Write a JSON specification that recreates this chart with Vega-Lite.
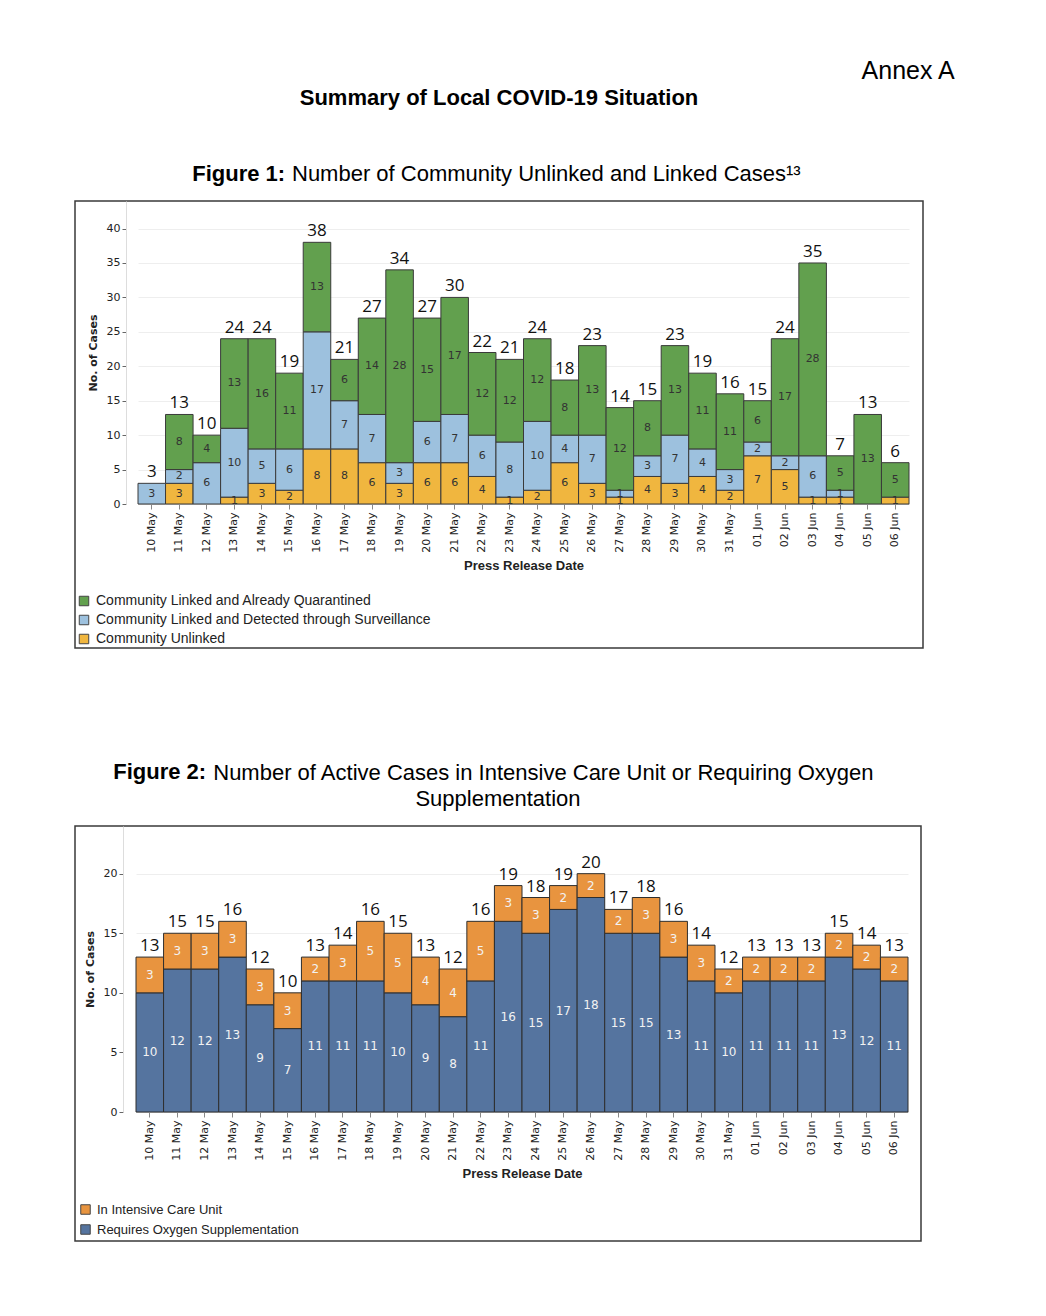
{
  "$schema": "https://vega.github.io/schema/vega-lite/v6.json",
  "background": "white",
  "padding": {"left": 74, "top": 59, "right": 10, "bottom": 10},
  "config": {
    "title": {"font": "Liberation Sans", "color": "#000000", "fontWeight": "normal", "fontSize": 22},
    "view": {"stroke": "#3a3a3a", "strokeWidth": 1.5},
    "concat": {"spacing": 0}
  },
  "resolve": {"scale": {"color": "independent"}, "legend": {"color": "independent"}},
  "datasets": {
    "fig1": [
      {"date": "10 May", "type": "Community Linked and Detected through Surveillance", "cases": 3},
      {"date": "11 May", "type": "Community Unlinked", "cases": 3},
      {"date": "11 May", "type": "Community Linked and Detected through Surveillance", "cases": 2},
      {"date": "11 May", "type": "Community Linked and Already Quarantined", "cases": 8},
      {"date": "12 May", "type": "Community Linked and Detected through Surveillance", "cases": 6},
      {"date": "12 May", "type": "Community Linked and Already Quarantined", "cases": 4},
      {"date": "13 May", "type": "Community Unlinked", "cases": 1},
      {"date": "13 May", "type": "Community Linked and Detected through Surveillance", "cases": 10},
      {"date": "13 May", "type": "Community Linked and Already Quarantined", "cases": 13},
      {"date": "14 May", "type": "Community Unlinked", "cases": 3},
      {"date": "14 May", "type": "Community Linked and Detected through Surveillance", "cases": 5},
      {"date": "14 May", "type": "Community Linked and Already Quarantined", "cases": 16},
      {"date": "15 May", "type": "Community Unlinked", "cases": 2},
      {"date": "15 May", "type": "Community Linked and Detected through Surveillance", "cases": 6},
      {"date": "15 May", "type": "Community Linked and Already Quarantined", "cases": 11},
      {"date": "16 May", "type": "Community Unlinked", "cases": 8},
      {"date": "16 May", "type": "Community Linked and Detected through Surveillance", "cases": 17},
      {"date": "16 May", "type": "Community Linked and Already Quarantined", "cases": 13},
      {"date": "17 May", "type": "Community Unlinked", "cases": 8},
      {"date": "17 May", "type": "Community Linked and Detected through Surveillance", "cases": 7},
      {"date": "17 May", "type": "Community Linked and Already Quarantined", "cases": 6},
      {"date": "18 May", "type": "Community Unlinked", "cases": 6},
      {"date": "18 May", "type": "Community Linked and Detected through Surveillance", "cases": 7},
      {"date": "18 May", "type": "Community Linked and Already Quarantined", "cases": 14},
      {"date": "19 May", "type": "Community Unlinked", "cases": 3},
      {"date": "19 May", "type": "Community Linked and Detected through Surveillance", "cases": 3},
      {"date": "19 May", "type": "Community Linked and Already Quarantined", "cases": 28},
      {"date": "20 May", "type": "Community Unlinked", "cases": 6},
      {"date": "20 May", "type": "Community Linked and Detected through Surveillance", "cases": 6},
      {"date": "20 May", "type": "Community Linked and Already Quarantined", "cases": 15},
      {"date": "21 May", "type": "Community Unlinked", "cases": 6},
      {"date": "21 May", "type": "Community Linked and Detected through Surveillance", "cases": 7},
      {"date": "21 May", "type": "Community Linked and Already Quarantined", "cases": 17},
      {"date": "22 May", "type": "Community Unlinked", "cases": 4},
      {"date": "22 May", "type": "Community Linked and Detected through Surveillance", "cases": 6},
      {"date": "22 May", "type": "Community Linked and Already Quarantined", "cases": 12},
      {"date": "23 May", "type": "Community Unlinked", "cases": 1},
      {"date": "23 May", "type": "Community Linked and Detected through Surveillance", "cases": 8},
      {"date": "23 May", "type": "Community Linked and Already Quarantined", "cases": 12},
      {"date": "24 May", "type": "Community Unlinked", "cases": 2},
      {"date": "24 May", "type": "Community Linked and Detected through Surveillance", "cases": 10},
      {"date": "24 May", "type": "Community Linked and Already Quarantined", "cases": 12},
      {"date": "25 May", "type": "Community Unlinked", "cases": 6},
      {"date": "25 May", "type": "Community Linked and Detected through Surveillance", "cases": 4},
      {"date": "25 May", "type": "Community Linked and Already Quarantined", "cases": 8},
      {"date": "26 May", "type": "Community Unlinked", "cases": 3},
      {"date": "26 May", "type": "Community Linked and Detected through Surveillance", "cases": 7},
      {"date": "26 May", "type": "Community Linked and Already Quarantined", "cases": 13},
      {"date": "27 May", "type": "Community Unlinked", "cases": 1},
      {"date": "27 May", "type": "Community Linked and Detected through Surveillance", "cases": 1},
      {"date": "27 May", "type": "Community Linked and Already Quarantined", "cases": 12},
      {"date": "28 May", "type": "Community Unlinked", "cases": 4},
      {"date": "28 May", "type": "Community Linked and Detected through Surveillance", "cases": 3},
      {"date": "28 May", "type": "Community Linked and Already Quarantined", "cases": 8},
      {"date": "29 May", "type": "Community Unlinked", "cases": 3},
      {"date": "29 May", "type": "Community Linked and Detected through Surveillance", "cases": 7},
      {"date": "29 May", "type": "Community Linked and Already Quarantined", "cases": 13},
      {"date": "30 May", "type": "Community Unlinked", "cases": 4},
      {"date": "30 May", "type": "Community Linked and Detected through Surveillance", "cases": 4},
      {"date": "30 May", "type": "Community Linked and Already Quarantined", "cases": 11},
      {"date": "31 May", "type": "Community Unlinked", "cases": 2},
      {"date": "31 May", "type": "Community Linked and Detected through Surveillance", "cases": 3},
      {"date": "31 May", "type": "Community Linked and Already Quarantined", "cases": 11},
      {"date": "01 Jun", "type": "Community Unlinked", "cases": 7},
      {"date": "01 Jun", "type": "Community Linked and Detected through Surveillance", "cases": 2},
      {"date": "01 Jun", "type": "Community Linked and Already Quarantined", "cases": 6},
      {"date": "02 Jun", "type": "Community Unlinked", "cases": 5},
      {"date": "02 Jun", "type": "Community Linked and Detected through Surveillance", "cases": 2},
      {"date": "02 Jun", "type": "Community Linked and Already Quarantined", "cases": 17},
      {"date": "03 Jun", "type": "Community Unlinked", "cases": 1},
      {"date": "03 Jun", "type": "Community Linked and Detected through Surveillance", "cases": 6},
      {"date": "03 Jun", "type": "Community Linked and Already Quarantined", "cases": 28},
      {"date": "04 Jun", "type": "Community Unlinked", "cases": 1},
      {"date": "04 Jun", "type": "Community Linked and Detected through Surveillance", "cases": 1},
      {"date": "04 Jun", "type": "Community Linked and Already Quarantined", "cases": 5},
      {"date": "05 Jun", "type": "Community Linked and Already Quarantined", "cases": 13},
      {"date": "06 Jun", "type": "Community Unlinked", "cases": 1},
      {"date": "06 Jun", "type": "Community Linked and Already Quarantined", "cases": 5}
    ],
    "fig2": [
      {"date": "10 May", "type": "Requires Oxygen Supplementation", "cases": 10},
      {"date": "10 May", "type": "In Intensive Care Unit", "cases": 3},
      {"date": "11 May", "type": "Requires Oxygen Supplementation", "cases": 12},
      {"date": "11 May", "type": "In Intensive Care Unit", "cases": 3},
      {"date": "12 May", "type": "Requires Oxygen Supplementation", "cases": 12},
      {"date": "12 May", "type": "In Intensive Care Unit", "cases": 3},
      {"date": "13 May", "type": "Requires Oxygen Supplementation", "cases": 13},
      {"date": "13 May", "type": "In Intensive Care Unit", "cases": 3},
      {"date": "14 May", "type": "Requires Oxygen Supplementation", "cases": 9},
      {"date": "14 May", "type": "In Intensive Care Unit", "cases": 3},
      {"date": "15 May", "type": "Requires Oxygen Supplementation", "cases": 7},
      {"date": "15 May", "type": "In Intensive Care Unit", "cases": 3},
      {"date": "16 May", "type": "Requires Oxygen Supplementation", "cases": 11},
      {"date": "16 May", "type": "In Intensive Care Unit", "cases": 2},
      {"date": "17 May", "type": "Requires Oxygen Supplementation", "cases": 11},
      {"date": "17 May", "type": "In Intensive Care Unit", "cases": 3},
      {"date": "18 May", "type": "Requires Oxygen Supplementation", "cases": 11},
      {"date": "18 May", "type": "In Intensive Care Unit", "cases": 5},
      {"date": "19 May", "type": "Requires Oxygen Supplementation", "cases": 10},
      {"date": "19 May", "type": "In Intensive Care Unit", "cases": 5},
      {"date": "20 May", "type": "Requires Oxygen Supplementation", "cases": 9},
      {"date": "20 May", "type": "In Intensive Care Unit", "cases": 4},
      {"date": "21 May", "type": "Requires Oxygen Supplementation", "cases": 8},
      {"date": "21 May", "type": "In Intensive Care Unit", "cases": 4},
      {"date": "22 May", "type": "Requires Oxygen Supplementation", "cases": 11},
      {"date": "22 May", "type": "In Intensive Care Unit", "cases": 5},
      {"date": "23 May", "type": "Requires Oxygen Supplementation", "cases": 16},
      {"date": "23 May", "type": "In Intensive Care Unit", "cases": 3},
      {"date": "24 May", "type": "Requires Oxygen Supplementation", "cases": 15},
      {"date": "24 May", "type": "In Intensive Care Unit", "cases": 3},
      {"date": "25 May", "type": "Requires Oxygen Supplementation", "cases": 17},
      {"date": "25 May", "type": "In Intensive Care Unit", "cases": 2},
      {"date": "26 May", "type": "Requires Oxygen Supplementation", "cases": 18},
      {"date": "26 May", "type": "In Intensive Care Unit", "cases": 2},
      {"date": "27 May", "type": "Requires Oxygen Supplementation", "cases": 15},
      {"date": "27 May", "type": "In Intensive Care Unit", "cases": 2},
      {"date": "28 May", "type": "Requires Oxygen Supplementation", "cases": 15},
      {"date": "28 May", "type": "In Intensive Care Unit", "cases": 3},
      {"date": "29 May", "type": "Requires Oxygen Supplementation", "cases": 13},
      {"date": "29 May", "type": "In Intensive Care Unit", "cases": 3},
      {"date": "30 May", "type": "Requires Oxygen Supplementation", "cases": 11},
      {"date": "30 May", "type": "In Intensive Care Unit", "cases": 3},
      {"date": "31 May", "type": "Requires Oxygen Supplementation", "cases": 10},
      {"date": "31 May", "type": "In Intensive Care Unit", "cases": 2},
      {"date": "01 Jun", "type": "Requires Oxygen Supplementation", "cases": 11},
      {"date": "01 Jun", "type": "In Intensive Care Unit", "cases": 2},
      {"date": "02 Jun", "type": "Requires Oxygen Supplementation", "cases": 11},
      {"date": "02 Jun", "type": "In Intensive Care Unit", "cases": 2},
      {"date": "03 Jun", "type": "Requires Oxygen Supplementation", "cases": 11},
      {"date": "03 Jun", "type": "In Intensive Care Unit", "cases": 2},
      {"date": "04 Jun", "type": "Requires Oxygen Supplementation", "cases": 13},
      {"date": "04 Jun", "type": "In Intensive Care Unit", "cases": 2},
      {"date": "05 Jun", "type": "Requires Oxygen Supplementation", "cases": 12},
      {"date": "05 Jun", "type": "In Intensive Care Unit", "cases": 2},
      {"date": "06 Jun", "type": "Requires Oxygen Supplementation", "cases": 11},
      {"date": "06 Jun", "type": "In Intensive Care Unit", "cases": 2}
    ]
  },
  "title": {"text": "Annex A", "anchor": "end", "dx": 31, "fontSize": 25, "offset": 3},
  "vconcat": [
    {
      "title": {"text": "Summary of Local COVID-19 Situation", "anchor": "middle", "fontSize": 22, "fontWeight": "bold", "offset": 52},
      "spacing": 112,
      "resolve": {"scale": {"color": "independent"}, "legend": {"color": "independent"}},
      "vconcat": [
        {
          "title": {"text": "Figure 1:", "anchor": "start", "dx": 118, "fontSize": 22, "fontWeight": "bold", "offset": -24},
          "resolve": {"scale": {"color": "independent"}, "legend": {"color": "independent"}},
          "vconcat": [
            {
              "width": 848,
              "height": 447,
              "title": {"text": "Number of Community Unlinked and Linked Cases¹³", "anchor": "start", "dx": 217, "fontSize": 22, "offset": 15},
              "data": {"name": "fig1"},
              "transform": [
                {"stack": "cases", "groupby": ["date"], "sort": [{"field": "type", "order": "descending"}], "as": ["c0", "c1"]},
                {"calculate": "(datum.c0 + datum.c1) / 2", "as": "mid"}
              ],
              "encoding": {
                "x": {
                  "field": "date", "type": "nominal",
                  "scale": {"domain": ["10 May","11 May","12 May","13 May","14 May","15 May","16 May","17 May","18 May","19 May","20 May","21 May","22 May","23 May","24 May","25 May","26 May","27 May","28 May","29 May","30 May","31 May","01 Jun","02 Jun","03 Jun","04 Jun","05 Jun","06 Jun"], "range": [63, 834], "paddingInner": 0, "paddingOuter": 0},
                  "axis": {"title": "Press Release Date", "offset": -144, "labelAngle": 270, "labelFont": "DejaVu Sans", "labelFontSize": 11, "labelColor": "#222", "labelPadding": 3, "tickColor": "#888", "tickSize": 5, "domainColor": "#cccccc", "titleFont": "Liberation Sans", "titleFontSize": 13, "titleFontWeight": "bold", "titleColor": "#222", "titlePadding": 7}
                }
              },
              "layer": [
                {
                  "mark": {"type": "bar", "stroke": "#3a3a3a", "strokeWidth": 1},
                  "encoding": {
                    "y": {"field": "c0", "type": "quantitative", "title": "No. of Cases",
                      "scale": {"domain": [0, 44], "range": [303, 0], "nice": false, "zero": true},
                      "axis": {"values": [0,5,10,15,20,25,30,35,40], "offset": -51, "grid": true, "gridColor": "#eeeeee", "domainColor": "#dddddd", "tickColor": "#666", "tickSize": 4, "labelFont": "DejaVu Sans", "labelFontSize": 11, "labelColor": "#222", "labelPadding": 2, "titleFont": "DejaVu Sans", "titleFontSize": 11, "titleFontWeight": "bold", "titleColor": "#222", "titlePadding": 8}},
                    "y2": {"field": "c1"},
                    "color": {
                      "field": "type", "type": "nominal",
                      "scale": {"domain": ["Community Linked and Already Quarantined", "Community Linked and Detected through Surveillance", "Community Unlinked"], "range": ["#62a04e", "#9dc1de", "#f0b63f"]},
                      "legend": {"orient": "bottom-left", "title": null, "offset": 2, "padding": 0, "symbolType": "square", "symbolSize": 90, "symbolStrokeColor": "#444", "symbolStrokeWidth": 1, "labelFont": "Liberation Sans", "labelFontSize": 14, "labelColor": "#222", "labelOffset": 5, "rowPadding": 5, "labelLimit": 500}
                    }
                  }
                },
                {
                  "mark": {"type": "text", "font": "DejaVu Sans", "fontSize": 11, "color": "#333", "baseline": "middle"},
                  "encoding": {
                    "y": {"field": "mid", "type": "quantitative", "title": "No. of Cases"},
                    "text": {"field": "cases", "type": "quantitative"}
                  }
                },
                {
                  "transform": [{"aggregate": [{"op": "sum", "field": "cases", "as": "total"}], "groupby": ["date"]}],
                  "mark": {"type": "text", "font": "Open Sans", "fontSize": 17, "color": "#111", "baseline": "alphabetic", "dy": -6},
                  "encoding": {
                    "y": {"field": "total", "type": "quantitative", "title": "No. of Cases"},
                    "text": {"field": "total", "type": "quantitative"}
                  }
                }
              ]
            }
          ]
        },
        {
          "title": {"text": "Figure 2:", "anchor": "start", "dx": 39, "fontSize": 22, "fontWeight": "bold", "offset": -22},
          "resolve": {"scale": {"color": "independent"}, "legend": {"color": "independent"}},
          "vconcat": [
            {
              "title": {"text": "Number of Active Cases in Intensive Care Unit or Requiring Oxygen", "anchor": "start", "dx": 139, "fontSize": 22, "offset": 2},
              "resolve": {"scale": {"color": "independent"}, "legend": {"color": "independent"}},
              "vconcat": [
                {
                  "width": 846,
                  "height": 415,
                  "title": {"text": "Supplementation", "anchor": "middle", "fontSize": 22, "offset": 15},
                  "data": {"name": "fig2"},
                  "transform": [
                    {"stack": "cases", "groupby": ["date"], "sort": [{"field": "type", "order": "descending"}], "as": ["c0", "c1"]},
                    {"calculate": "(datum.c0 + datum.c1) / 2", "as": "mid"}
                  ],
                  "encoding": {
                    "x": {
                      "field": "date", "type": "nominal",
                      "scale": {"domain": ["10 May","11 May","12 May","13 May","14 May","15 May","16 May","17 May","18 May","19 May","20 May","21 May","22 May","23 May","24 May","25 May","26 May","27 May","28 May","29 May","30 May","31 May","01 Jun","02 Jun","03 Jun","04 Jun","05 Jun","06 Jun"], "range": [61, 833], "paddingInner": 0, "paddingOuter": 0},
                      "axis": {"title": "Press Release Date", "offset": -129, "labelAngle": 270, "labelFont": "DejaVu Sans", "labelFontSize": 11, "labelColor": "#222", "labelPadding": 3, "tickColor": "#888", "tickSize": 5, "domainColor": "#cccccc", "titleFont": "Liberation Sans", "titleFontSize": 13, "titleFontWeight": "bold", "titleColor": "#222", "titlePadding": 7}
                    }
                  },
                  "layer": [
                    {
                      "mark": {"type": "bar", "stroke": "#2e2e2e", "strokeWidth": 1},
                      "encoding": {
                        "y": {"field": "c0", "type": "quantitative", "title": "No. of Cases",
                          "scale": {"domain": [0, 24], "range": [286, 0], "nice": false, "zero": true},
                          "axis": {"values": [0,5,10,15,20], "offset": -48, "grid": true, "gridColor": "#eeeeee", "domainColor": "#dddddd", "tickColor": "#666", "tickSize": 4, "labelFont": "DejaVu Sans", "labelFontSize": 11, "labelColor": "#222", "labelPadding": 2, "titleFont": "DejaVu Sans", "titleFontSize": 11, "titleFontWeight": "bold", "titleColor": "#222", "titlePadding": 8}},
                        "y2": {"field": "c1"},
                        "color": {
                          "field": "type", "type": "nominal",
                          "scale": {"domain": ["In Intensive Care Unit", "Requires Oxygen Supplementation"], "range": ["#e8943f", "#55749f"]},
                          "legend": {"orient": "bottom-left", "title": null, "offset": 4, "padding": 0, "symbolType": "square", "symbolSize": 90, "symbolStrokeColor": "#444", "symbolStrokeWidth": 1, "labelFont": "Liberation Sans", "labelFontSize": 13, "labelColor": "#222", "labelOffset": 5, "rowPadding": 5, "labelLimit": 500}
                        }
                      }
                    },
                    {
                      "mark": {"type": "text", "font": "DejaVu Sans", "fontSize": 12, "color": "#f2f2f2", "baseline": "middle"},
                      "encoding": {
                        "y": {"field": "mid", "type": "quantitative", "title": "No. of Cases"},
                        "text": {"field": "cases", "type": "quantitative"}
                      }
                    },
                    {
                      "transform": [{"aggregate": [{"op": "sum", "field": "cases", "as": "total"}], "groupby": ["date"]}],
                      "mark": {"type": "text", "font": "Open Sans", "fontSize": 17, "color": "#111", "baseline": "alphabetic", "dy": -6},
                      "encoding": {
                        "y": {"field": "total", "type": "quantitative", "title": "No. of Cases"},
                        "text": {"field": "total", "type": "quantitative"}
                      }
                    }
                  ]
                }
              ]
            }
          ]
        }
      ]
    }
  ]
}
